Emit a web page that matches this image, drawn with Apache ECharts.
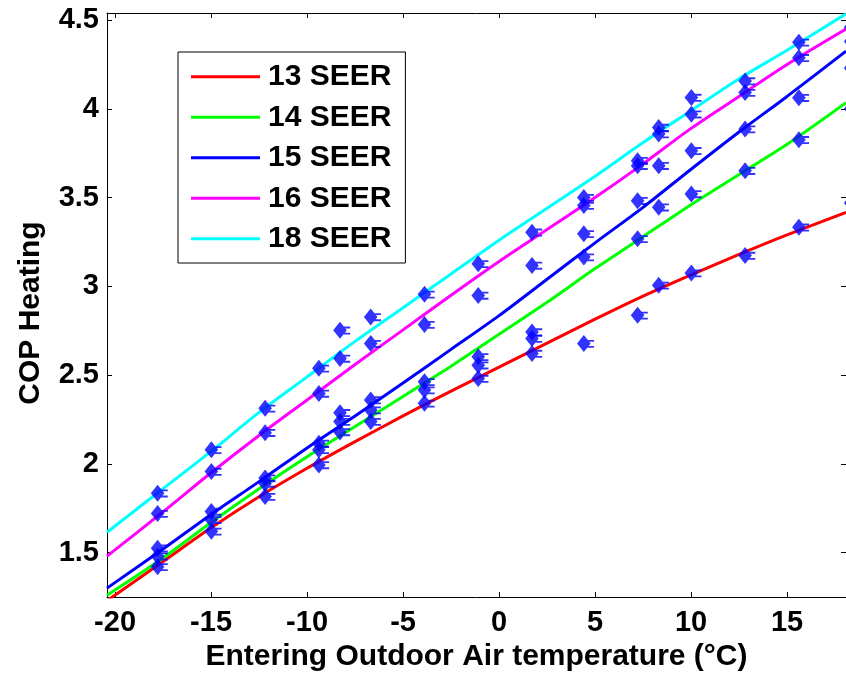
<!DOCTYPE html>
<html>
<head>
<meta charset="utf-8">
<script src="https://cdn.jsdelivr.net/npm/echarts@6/dist/echarts.min.js"></script>
<style>
html,body{margin:0;padding:0;background:#fff;}
#chart{width:846px;height:676px;}
</style>
</head>
<body>
<div id="chart"></div>
<script>
// Axis ranges and tick labels
const xMin = -20.42, xMax = 18.07;
const yMin = 1.25, yMax = 4.54;
const xTicks = [-20, -15, -10, -5, 0, 5, 10, 15];
const yTicks = [1.5, 2, 2.5, 3, 3.5, 4, 4.5];

// Fitted curves
const seriesNames = ['13 SEER', '14 SEER', '15 SEER', '16 SEER', '18 SEER'];
const fitX   = [-20.42, -17.5, -15, -12.5, -10, -7.5, -5, -2.5, 0, 2.5, 5, 7.5, 10, 12.5, 15, 18.07];
const fit13  = [1.229, 1.45, 1.64, 1.815, 1.975, 2.125, 2.27, 2.41, 2.545, 2.68, 2.815, 2.945, 3.065, 3.18, 3.29, 3.417];
const fit14  = [1.26, 1.47, 1.67, 1.86, 2.04, 2.21, 2.38, 2.55, 2.73, 2.91, 3.10, 3.28, 3.46, 3.63, 3.80, 4.035];
const fit15  = [1.30, 1.52, 1.715, 1.90, 2.09, 2.27, 2.455, 2.645, 2.835, 3.04, 3.245, 3.445, 3.66, 3.87, 4.07, 4.325];
const fit16  = [1.48, 1.73, 1.95, 2.16, 2.36, 2.56, 2.755, 2.95, 3.14, 3.32, 3.50, 3.69, 3.89, 4.07, 4.25, 4.45];
const fit18  = [1.615, 1.86, 2.07, 2.29, 2.49, 2.69, 2.88, 3.07, 3.26, 3.44, 3.62, 3.81, 3.99, 4.17, 4.33, 4.535];
const lineColors = ['#ff0000', '#00ff00', '#0000ff', '#ff00ff', '#00ffff'];

// Measured data points (blue markers), sorted low to high at each temperature
const obsX = [-17.8, -15, -12.2, -9.4, -8.3, -6.7, -3.9, -1.1, 1.7, 4.4, 7.2, 8.3, 10, 12.8, 15.6, 18.3];
const obsA = [1.42, 1.62, 1.816, 1.994, 2.18, 2.238, 2.341, 2.481, 2.622, 2.678, 2.837, 3.006, 3.075, 3.174, 3.333, 3.47];
const obsB = [1.48, 1.685, 1.89, 2.079, 2.238, 2.303, 2.416, 2.556, 2.706, 3.165, 3.268, 3.446, 3.521, 3.652, 3.826, 4.0];
const obsC = [1.525, 1.732, 1.92, 2.116, 2.288, 2.36, 2.462, 2.603, 2.743, 3.296, 3.483, 3.68, 3.764, 3.886, 4.063, 4.23];
const obsD = [1.72, 1.957, 2.176, 2.397, 2.594, 2.678, 2.785, 2.949, 3.118, 3.455, 3.68, 3.858, 3.97, 4.092, 4.288, 4.38];
const obsE = [1.835, 2.079, 2.313, 2.538, 2.753, 2.828, 2.955, 3.127, 3.305, 3.50, 3.708, 3.895, 4.064, 4.157, 4.375, 4.46];

const xTitle = 'Entering Outdoor Air temperature (°C)';
const yTitle = 'COP Heating';

const FONT = "'Liberation Sans', Arial, sans-serif";
const fits = [fit13, fit14, fit15, fit16, fit18];
const obs = [obsA, obsB, obsC, obsD, obsE];

const chart = echarts.init(document.getElementById('chart'), null, {renderer: 'canvas'});

const axisCommon = {
  axisLine: {show: true, onZero: false, lineStyle: {color: '#000', width: 1}},
  splitLine: {show: false}
};

const markerPath = 'path://M0,-7 L6,0 L0,7 L-6,0 Z M3,-3 L9,-3 L9,-1.5 L3,-1.5 Z M3,2 L9,2 L9,3.5 L3,3.5 Z';

const series = [];
fits.forEach((f, i) => {
  series.push({
    name: seriesNames[i],
    type: 'line',
    xAxisIndex: 0, yAxisIndex: 0,
    data: fitX.map((x, k) => [x, f[k]]),
    smooth: 0.3,
    symbol: 'none',
    showSymbol: false,
    lineStyle: {color: lineColors[i], width: 3},
    itemStyle: {color: lineColors[i]},
    z: 2,
    animation: false
  });
});
obs.forEach((o) => {
  series.push({
    name: 'Measured',
    type: 'scatter',
    xAxisIndex: 0, yAxisIndex: 0,
    data: obsX.map((x, k) => [x, o[k]]),
    symbol: markerPath,
    symbolSize: [17, 17],
    symbolOffset: [2, 0],
    itemStyle: {color: '#0000ff'},
    clip: false,
    z: 3,
    animation: false
  });
});

chart.setOption({
  backgroundColor: '#fff',
  animation: false,
  grid: {left: 107, right: 0, top: 13, bottom: 79, containLabel: false, outerBoundsMode: 'none'},
  legend: {
    data: seriesNames.map(n => ({name: n, icon: 'rect'})),
    orient: 'vertical',
    left: 178,
    top: 52,
    itemWidth: 69,
    itemHeight: 3,
    itemGap: 0,
    padding: [4.5, 14, 4, 13],
    borderColor: '#000',
    borderWidth: 1,
    backgroundColor: '#fff',
    selectedMode: false,
    textStyle: {fontFamily: FONT, fontWeight: 'bold', fontSize: 30, color: '#000', lineHeight: 40.5, padding: [0, 0, 0, 3]}
  },
  xAxis: [
    Object.assign({}, axisCommon, {
      type: 'value', position: 'bottom', min: xMin, max: xMax,
      name: xTitle, nameLocation: 'middle', nameGap: 60, nameMoveOverlap: false,
      nameTextStyle: {fontFamily: FONT, fontWeight: 'bold', fontSize: 30, color: '#000', verticalAlign: 'middle', align: 'center'},
      axisTick: {show: true, inside: true, length: 5, customValues: xTicks, lineStyle: {color: '#000'}},
      axisLabel: {show: true, customValues: xTicks, margin: 11, fontFamily: FONT, fontWeight: 'bold', fontSize: 29, color: '#000'}
    }),
    Object.assign({}, axisCommon, {
      type: 'value', position: 'top', min: xMin, max: xMax,
      axisTick: {show: true, inside: true, length: 5, customValues: xTicks, lineStyle: {color: '#000'}},
      axisLabel: {show: false}
    })
  ],
  yAxis: [
    Object.assign({}, axisCommon, {
      type: 'value', position: 'left', min: yMin, max: yMax,
      name: yTitle, nameLocation: 'middle', nameGap: 76, nameRotate: 90, nameMoveOverlap: false,
      nameTextStyle: {fontFamily: FONT, fontWeight: 'bold', fontSize: 30, color: '#000', padding: [0, 16, 0, 0], verticalAlign: 'middle', align: 'center'},
      axisTick: {show: true, inside: true, length: 5, customValues: yTicks, lineStyle: {color: '#000'}},
      axisLabel: {show: true, customValues: yTicks, margin: 8, fontFamily: FONT, fontWeight: 'bold', fontSize: 29, color: '#000',
        formatter: v => String(v)}
    }),
    Object.assign({}, axisCommon, {
      type: 'value', position: 'right', min: yMin, max: yMax,
      axisTick: {show: true, inside: true, length: 5, customValues: yTicks, lineStyle: {color: '#000'}},
      axisLabel: {show: false}
    })
  ],
  series: series
});
</script>
</body>
</html>
